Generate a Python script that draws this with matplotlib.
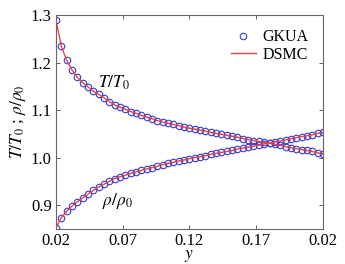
import matplotlib
matplotlib.use('Agg')
import matplotlib.pyplot as plt

# data
y_pos = [0.020, 0.024, 0.028, 0.032, 0.036, 0.040, 0.044, 0.048, 0.052, 0.056,
         0.060, 0.064, 0.068, 0.072, 0.076, 0.080, 0.084, 0.088, 0.092, 0.096,
         0.100, 0.104, 0.108, 0.112, 0.116, 0.120, 0.124, 0.128, 0.132, 0.136,
         0.140, 0.144, 0.148, 0.152, 0.156, 0.160, 0.164, 0.168, 0.172, 0.176,
         0.180, 0.184, 0.188, 0.192, 0.196, 0.200, 0.204, 0.208, 0.212, 0.216,
         0.220]
T_ratio = [1.290, 1.235, 1.205, 1.185, 1.169, 1.158, 1.149, 1.140, 1.133, 1.126,
           1.118, 1.111, 1.106, 1.102, 1.097, 1.093, 1.089, 1.085, 1.082, 1.078,
           1.075, 1.072, 1.070, 1.067, 1.064, 1.062, 1.060, 1.058, 1.056, 1.053,
           1.051, 1.049, 1.047, 1.045, 1.043, 1.040, 1.038, 1.036, 1.034, 1.032,
           1.030, 1.028, 1.026, 1.023, 1.021, 1.019, 1.017, 1.015, 1.013, 1.010,
           1.008]
rho_ratio = [0.852, 0.873, 0.887, 0.898, 0.907, 0.915, 0.923, 0.931, 0.938, 0.944,
             0.950, 0.956, 0.960, 0.963, 0.967, 0.970, 0.973, 0.976, 0.979, 0.982,
             0.985, 0.988, 0.990, 0.993, 0.995, 0.998, 1.000, 1.002, 1.004, 1.007,
             1.009, 1.011, 1.013, 1.015, 1.018, 1.020, 1.022, 1.024, 1.026, 1.029,
             1.031, 1.033, 1.035, 1.037, 1.040, 1.042, 1.044, 1.046, 1.048, 1.051,
             1.053]
xticks = [0.02, 0.07, 0.12, 0.17, 0.22]
xticklabels = ['0.02', '0.07', '0.12', '0.17', '0.02']
yticks = [0.9, 1.0, 1.1, 1.2, 1.3]

plt.rcParams['font.family'] = ['Liberation Serif', 'DejaVu Serif']
plt.rcParams['mathtext.fontset'] = 'stix'
plt.rcParams['font.size'] = 10.5

blue = '#3a3acf'
red = '#e8404a'

fig = plt.figure(figsize=(3.45, 2.64), dpi=100)
ax = fig.add_axes([0.162, 0.133, 0.774, 0.810])

ax.plot(y_pos, T_ratio, 'o', mfc='none', mec=blue, ms=4.7, mew=0.8, label='GKUA', zorder=2)
ax.plot(y_pos, rho_ratio, 'o', mfc='none', mec=blue, ms=4.7, mew=0.8, zorder=2)
ax.plot(y_pos, T_ratio, '-', color=red, lw=1.0, label='DSMC', zorder=3)
ax.plot(y_pos, rho_ratio, '-', color=red, lw=1.0, zorder=3)

ax.set_xlim(0.02, 0.22)
ax.set_ylim(0.85, 1.3)
ax.set_xticks(xticks)
ax.set_xticklabels(xticklabels)
ax.set_yticks(yticks)
ax.set_yticklabels(['0.9', '1.0', '1.1', '1.2', '1.3'])
ax.tick_params(direction='in', top=True, right=True, length=3, width=0.6,
               color='#444444', labelsize=12, pad=3)
for sp in ax.spines.values():
    sp.set_color('#666666')
    sp.set_linewidth(0.8)

ax.text(0.0515, 1.158, r'$T/T_0$', fontsize=12.5, va='center', ha='left')
ax.text(0.0545, 0.909, r'$\rho/\rho_0$', fontsize=12.5, va='center', ha='left')

ax.set_xlabel(r'$y$', fontsize=12.5, labelpad=-1)
ax.set_ylabel(r'$T/T_0$ ; $\rho/\rho_0$', fontsize=12.5, labelpad=2)

ax.legend(loc='upper right', frameon=False, fontsize=11.5, numpoints=1,
          handlelength=1.6, handletextpad=0.4, labelspacing=0.1,
          borderaxespad=0.5)

fig.savefig('out.png', dpi=100)
